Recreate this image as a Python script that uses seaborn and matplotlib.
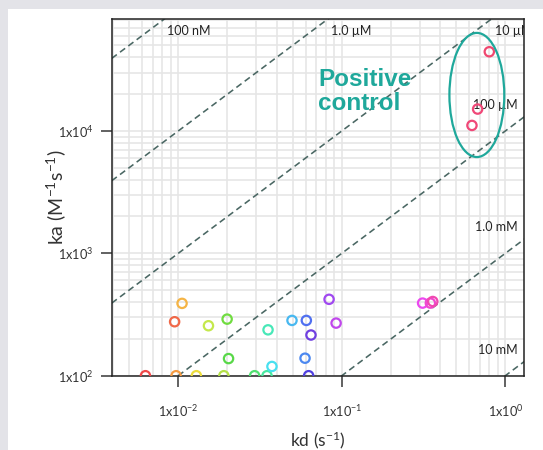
import numpy as np
import pandas as pd
import matplotlib
matplotlib.use("Agg")
import matplotlib.pyplot as plt
import matplotlib.ticker as mticker
from matplotlib.patches import Ellipse, Rectangle
import seaborn as sns

# kinetic data (kd in 1/s, ka in 1/(M s))
kd = [0.0063, 0.0097, 0.0095, 0.01055, 0.0129, 0.0153, 0.019, 0.0199, 0.0203,
      0.0293, 0.0349, 0.0354, 0.0374, 0.0496, 0.0607, 0.0596, 0.0648, 0.0627,
      0.0836, 0.0923, 0.312, 0.348, 0.36, 0.625, 0.677, 0.798]
ka = [100, 100, 276, 390, 100, 256, 100, 290, 138,
      100, 100, 237, 119, 283, 283, 139, 215, 100,
      421, 269, 392, 392, 404, 11100, 15100, 44400]
point_colors = ["#f04848", "#f59a40", "#f06848", "#f5b445", "#ecdc3c", "#c4e84c",
                "#b4e048", "#70dc40", "#58d848", "#50e070", "#48e8a0", "#48e8b8",
                "#48e0f0", "#48b8f0", "#5070f0", "#4c88f0", "#7040e0", "#5040e0",
                "#a048f0", "#c048ec", "#ec48f0", "#f048d0", "#f048b0", "#f04878",
                "#f04878", "#f04870"]

# iso-affinity lines (KD in M) and their labels
kd_lines = [1e-7, 1e-6, 1e-5, 1e-4, 1e-3, 1e-2]
kd_line_labels = ["100 nM", "1.0 µM", "10 µM", "100 µM", "1.0 mM", "10 mM"]

xlim = (10 ** -2.407, 10 ** 0.116)
ylim = (100, 10 ** 4.915)

teal = "#1fa89b"
line_col = "#4a6763"

sns.set_theme(style="white")
plt.rcParams["font.family"] = ["Lato", "DejaVu Sans"]
plt.rcParams["mathtext.fontset"] = "custom"
plt.rcParams["mathtext.rm"] = "Lato"
plt.rcParams["mathtext.it"] = "Lato:italic"
plt.rcParams["mathtext.bf"] = "Lato:bold"

fig = plt.figure(figsize=(5.43, 4.5), dpi=100, facecolor="#e3e3e8")
fig.patches.append(Rectangle((8 / 543, 0), 1, 1 - 9 / 450, transform=fig.transFigure,
                             facecolor="white", edgecolor="none", zorder=-10))
ax = fig.add_axes([111.7 / 543, 1 - 375.7 / 450, (524.3 - 111.7) / 543, (375.7 - 19) / 450])
ax.set_zorder(1)
ax.set_facecolor("white")

ax.set_xscale("log")
ax.set_yscale("log")
ax.set_xlim(*xlim)
ax.set_ylim(*ylim)

# grid on major and minor log ticks
ax.xaxis.set_minor_locator(mticker.LogLocator(base=10, subs=np.arange(2, 10)))
ax.yaxis.set_minor_locator(mticker.LogLocator(base=10, subs=np.arange(2, 10)))
ax.grid(True, which="both", color="#e6e6e6", linewidth=1.2, zorder=0)
ax.set_axisbelow(True)

# iso-KD dashed lines
xs = np.array(xlim)
for K, lab in zip(kd_lines, kd_line_labels):
    ax.plot(xs, xs / K, linestyle=(0, (4, 2.5)), color=line_col, linewidth=1.15, zorder=2)
    x_top = ylim[1] * K
    if x_top < xlim[1]:
        ax.text(x_top * 1.045, ylim[1] / 1.25, lab, ha="left", va="center",
                fontsize=9, color="#222222", clip_on=True, zorder=3)
    else:
        ax.text(xlim[1] / 1.10, xlim[1] / K * 1.25, lab, ha="right", va="center",
                fontsize=9, color="#222222", zorder=3)

df = pd.DataFrame({"kd": kd, "ka": ka, "id": [str(i) for i in range(len(kd))]})
sns.scatterplot(data=df, x="kd", y="ka", hue="id", palette=point_colors, legend=False,
                s=45, linewidth=1.6, ax=ax, zorder=4)
coll = ax.collections[-1]
coll.set_edgecolors(coll.get_facecolors())
coll.set_facecolors("none")

# positive control annotation
ax.add_patch(Ellipse((0.885, 0.787), 0.133, 0.348, transform=ax.transAxes,
                     facecolor="none", edgecolor=teal, linewidth=1.6, zorder=5))
ax.text(0.5, 0.797, "Positive\ncontrol", transform=ax.transAxes, ha="left", va="center",
        fontsize=17.5, fontweight="bold", color=teal, linespacing=1.1,
        family=["Liberation Sans", "DejaVu Sans"], zorder=5)

# ticks
ax.set_xticks([1e-2, 1e-1, 1e0])
ax.set_yticks([1e2, 1e3, 1e4])
ax.xaxis.set_major_formatter(mticker.FuncFormatter(
    lambda v, p: r"1x10$^{\mathregular{%d}}$" % round(np.log10(v))))
ax.yaxis.set_major_formatter(mticker.FuncFormatter(
    lambda v, p: r"1x10$^{\mathregular{%d}}$" % round(np.log10(v))))
ax.tick_params(axis="both", which="major", direction="out", length=8, width=1.3,
               color="#555555", labelsize=9.2, labelcolor="#333333", bottom=True, left=True)
ax.tick_params(axis="x", which="major", pad=12)
ax.tick_params(axis="y", which="major", pad=5)
ax.tick_params(which="minor", length=0)

for sp in ax.spines.values():
    sp.set_color("#222222")
    sp.set_linewidth(1.1)

ax.set_xlabel(r"kd (s$^{\mathregular{-1}}$)", fontsize=12.5, color="#333333", va="center")
ax.set_ylabel(r"ka (M$^{\mathregular{-1}}$s$^{\mathregular{-1}}$)", fontsize=14,
              color="#333333", va="center")
ax.xaxis.set_label_coords(0.5, -(440 - 375.7) / 356.7)
ax.yaxis.set_label_coords(-(111.7 - 56) / 412.6, 0.5)

fig.savefig("out.png", dpi=100, facecolor=fig.get_facecolor())
